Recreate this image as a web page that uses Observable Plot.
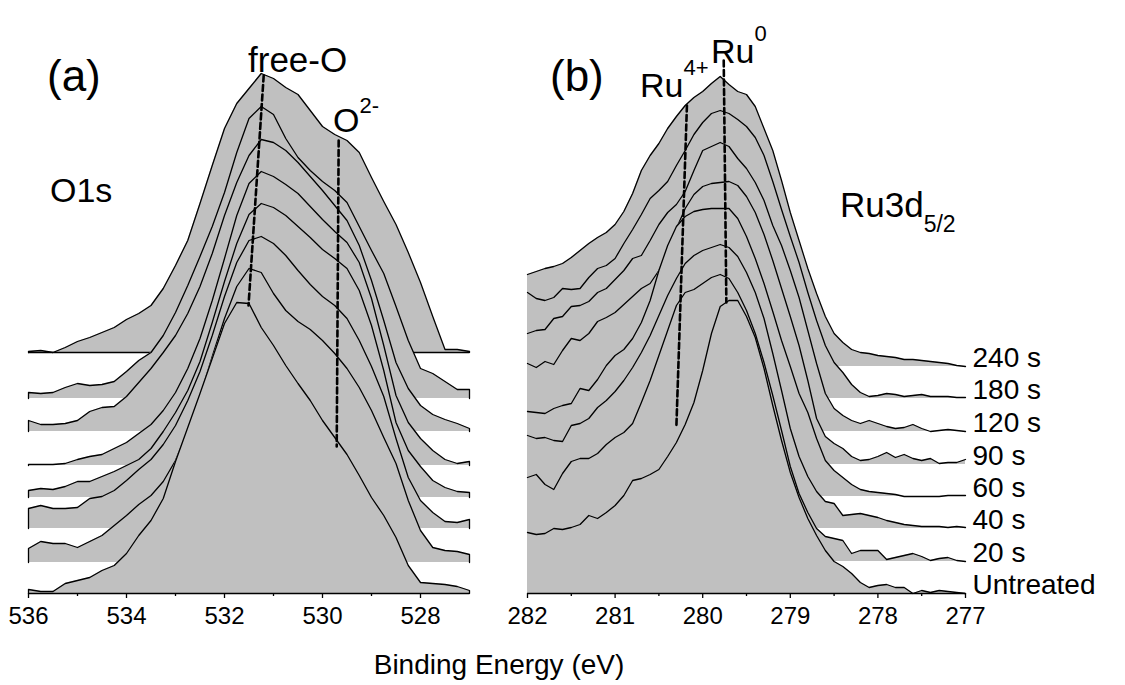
<!DOCTYPE html>
<html><head><meta charset="utf-8">
<script src="https://cdn.jsdelivr.net/npm/d3@7"></script>
<script src="https://cdn.jsdelivr.net/npm/@observablehq/plot@0.6"></script>
<style>
body{margin:0;background:#fff;}
#fig{position:relative;width:1125px;height:685px;overflow:hidden;font-family:"Liberation Sans",Arial,sans-serif;background:#fff;}
#fig > svg{position:absolute;top:0;}
</style></head><body><div id="fig"></div>
<script>
// ---- data ----
const seriesNames = ["240 s","180 s","120 s","90 s","60 s","40 s","20 s","Untreated"];

// O1s panel: binding energy grid (eV) and intensity above each trace's own baseline (a.u.)
const o1sEnergy = [536,535.75,535.5,535.25,535,534.75,534.5,534.25,534,533.75,533.5,533.25,533,532.75,532.5,532.25,532,531.75,531.5,531.25,531,530.75,530.5,530.25,530,529.75,529.5,529.25,529,528.75,528.5,528.25,528,527.75,527.5,527.25,527];
const o1s240 = [1,2,0,5,11,15,20,25,33,39,47,64,87,112,149,187,224,249,264,279,274,265,258,242,226,218,212,200,175,151,128,100,70,36,3,3,1];
const o1s180 = [6,5,6,11,15,13,14,17,27,38,46,63,86,113,142,172,206,246,280,292,284,260,241,228,217,208,196,172,148,125,92,58,30,25,17,9,9];
const o1s120 = [11,7,7,8,11,20,24,25,35,49,63,79,96,118,145,178,216,249,276,292,289,281,269,255,241,226,211,186,151,111,69,43,26,17,12,8,3];
const o1s90  = [1,1,1,2,6,9,11,17,23,32,41,55,73,97,127,165,207,250,282,294,289,281,272,259,246,234,223,203,167,120,70,43,27,15,6,2,4];
const o1s60  = [7,9,8,11,16,16,21,26,32,38,49,66,85,107,136,175,216,254,283,294,290,282,271,260,248,239,229,207,172,127,75,47,31,17,10,6,5];
const o1s40  = [20,23,20,20,21,30,32,38,48,59,69,84,103,128,157,193,232,266,288,292,285,273,258,244,232,223,210,188,162,132,90,51,28,16,7,6,9];
const o1s20  = [14,21,19,19,15,21,27,37,47,58,67,81,102,132,166,206,244,276,294,290,269,252,241,233,222,209,194,175,152,125,99,62,32,15,12,11,8];
const o1sUnt = [4,2,2,10,13,16,23,28,40,58,73,95,132,166,200,235,270,291,290,266,248,228,210,193,173,156,139,118,96,78,56,28,11,10,9,7,3];
const o1sOffset = [241,195,162,128,96,65,31,0];
const o1sTicks = [536,534,532,530,528];
const o1sMinor = [535,533,531,529];

// Ru3d5/2 panel
const ruEnergy = [282,281.9,281.8,281.7,281.6,281.5,281.4,281.3,281.2,281.1,281,280.9,280.8,280.7,280.6,280.5,280.4,280.3,280.2,280.1,280,279.9,279.8,279.7,279.6,279.5,279.4,279.3,279.2,279.1,279,278.9,278.8,278.7,278.6,278.5,278.4,278.3,278.2,278.1,278,277.9,277.8,277.7,277.6,277.5,277.4,277.3,277.2,277.1,277];
const ru240 = [92,95,98,100,103,109,116,123,129,134,142,155,173,196,211,223,238,250,261,269,275,283,290,282,275,272,260,238,216,186,154,126,98,73,50,33,24,17,14,13,11,10,9,7,7,6,5,4,3,1,0];
const ru180 = [106,100,98,101,110,109,110,121,130,133,140,155,169,184,200,208,217,233,248,264,276,285,288,285,279,272,261,243,217,189,162,136,106,78,53,36,26,14,6,2,3,5,4,2,3,4,2,2,2,1,1];
const ru120 = [98,101,102,113,115,125,126,130,139,143,152,161,173,176,191,207,219,227,240,261,281,285,289,285,273,263,249,231,206,186,161,134,101,68,38,23,16,11,8,11,8,5,3,4,7,3,0,1,2,1,0];
const ru90  = [101,97,103,100,114,126,124,131,143,147,152,160,168,176,181,194,214,236,256,270,278,281,282,283,279,268,252,230,204,176,148,119,84,46,28,21,16,8,4,5,8,12,7,10,6,4,6,1,2,2,5];
const ru60  = [85,84,83,88,91,93,108,106,117,131,141,147,158,174,196,226,251,270,280,285,287,288,288,288,278,260,238,213,185,156,130,103,84,58,36,26,19,12,7,5,4,3,2,0,0,0,0,0,1,1,1];
const ru40  = [93,90,91,88,87,103,105,110,121,128,137,148,161,176,193,213,233,250,265,273,278,281,284,281,272,256,236,210,175,138,100,72,52,37,27,25,13,14,15,13,11,8,6,4,3,2,2,2,1,2,1];
const ru20  = [84,87,77,72,88,100,103,103,108,117,124,129,138,159,181,206,231,256,269,272,278,284,287,283,269,251,228,199,166,131,95,68,49,33,25,23,21,8,11,11,11,2,4,6,8,5,1,3,4,1,0];
const ruUnt = [61,59,60,65,64,66,69,78,75,81,88,98,113,115,119,124,137,151,169,191,223,260,287,293,293,277,256,225,188,153,121,96,75,58,43,32,27,20,11,6,8,9,6,6,0,3,1,3,2,1,0];
const ruOffset = [227,195,162,129,97,65,32,0];
const ruTicks = [282,281,280,279,278,277];
const ruMinor = [281.5,280.5,279.5,278.5,277.5];

// peak-position guide lines (energy, intensity)
const freeOLine = [[531.20,518],[531.51,288]];
const o2Line    = [[529.67,453],[529.71,147]];
const ru0Line   = [[279.76,533],[279.73,291]];
const ru4Line   = [[280.18,488],[280.30,168]];

// ---- drawing ----
const FONT = "'Liberation Sans', Arial, sans-serif";
const FILL = "#c0c0c0";

function makePanel(cfg) {
  const marks = [];
  cfg.spectra.forEach((vals, k) => {
    const off = cfg.offsets[k];
    const rows = cfg.energy.map((E, i) => ({E, h: vals[i]}));
    let lineRows = rows;
    if (cfg.endDrops) lineRows = [{E: cfg.energy[0], h: 0}, ...rows, {E: cfg.energy[cfg.energy.length - 1], h: 0}];
    marks.push(Plot.areaY(rows, {x: "E", y1: () => off, y2: d => off + d.h, fill: FILL}));
    marks.push(Plot.lineY(lineRows, {x: "E", y: d => off + d.h, stroke: "black", strokeWidth: 1.3}));
    if (cfg.topBaseline && k === 0) marks.push(Plot.ruleY([off], {stroke: "black", strokeWidth: 1.3}));
  });
  cfg.guides.forEach(g => {
    marks.push(Plot.line(g, {x: d => d[0], y: d => d[1], stroke: "black", strokeWidth: 2.6, strokeDasharray: "6,3.5"}));
  });
  marks.push(Plot.ruleY([0], {stroke: "black", strokeWidth: 1.5}));
  if (Plot.axisX) {
    marks.push(Plot.axisX({ticks: cfg.ticks, tickSize: 5, tickPadding: 8, fontSize: 24, tickFormat: d => String(d), label: null, strokeWidth: 1.3}));
    marks.push(Plot.axisX({ticks: cfg.minor, tickSize: 3, tickFormat: () => "", label: null, strokeWidth: 1.3}));
  }
  if (cfg.labels) {
    const lab = seriesNames.map((s, k) => ({s, off: cfg.offsets[k]}));
    marks.push(Plot.text(lab, {x: () => cfg.energy[cfg.energy.length - 1], y: d => d.off, text: "s", dx: 7, dy: -8, textAnchor: "start", lineAnchor: "middle", fontSize: 28, fill: "black"}));
  }
  const svg = Plot.plot({
    width: cfg.width, height: 640,
    marginLeft: cfg.marginLeft, marginRight: cfg.marginRight, marginTop: 53, marginBottom: 47,
    x: {domain: cfg.domain, ...(Plot.axisX ? {} : {ticks: cfg.ticks, tickSize: 5, label: null})},
    y: {domain: [0, 540], axis: null},
    style: {background: "transparent", overflow: "visible", fontFamily: FONT, color: "black"},
    marks
  });
  svg.style.left = cfg.left + "px";
  return svg;
}

const fig = document.getElementById("fig");
fig.appendChild(makePanel({
  left: 0, width: 500, marginLeft: 28, marginRight: 31, domain: [536, 527],
  energy: o1sEnergy, spectra: [o1s240, o1s180, o1s120, o1s90, o1s60, o1s40, o1s20, o1sUnt],
  offsets: o1sOffset, ticks: o1sTicks, minor: o1sMinor, guides: [freeOLine, o2Line],
  endDrops: true, topBaseline: true, labels: false
}));
fig.appendChild(makePanel({
  left: 500, width: 625, marginLeft: 27, marginRight: 160, domain: [282, 277],
  energy: ruEnergy, spectra: [ru240, ru180, ru120, ru90, ru60, ru40, ru20, ruUnt],
  offsets: ruOffset, ticks: ruTicks, minor: ruMinor, guides: [ru0Line, ru4Line],
  endDrops: false, topBaseline: false, labels: true
}));

// annotation layer (text only)
const NS = "http://www.w3.org/2000/svg";
const ann = document.createElementNS(NS, "svg");
ann.setAttribute("width", 1125); ann.setAttribute("height", 685);
ann.style.left = "0px"; ann.style.pointerEvents = "none";
ann.setAttribute("font-family", FONT);
function txt(parts, x, y, anchor) {
  const t = document.createElementNS(NS, "text");
  t.setAttribute("x", x); t.setAttribute("y", y);
  if (anchor) t.setAttribute("text-anchor", anchor);
  parts.forEach(p => {
    const s = document.createElementNS(NS, "tspan");
    s.textContent = p.t;
    s.setAttribute("font-size", p.size);
    if (p.dy) s.setAttribute("dy", p.dy);
    t.appendChild(s);
  });
  ann.appendChild(t);
}
txt([{t: "(a)", size: 44}], 47, 91);
txt([{t: "free-O", size: 35}], 248, 72);
txt([{t: "O", size: 34}, {t: "2-", size: 22, dy: -19}], 333, 132);
txt([{t: "O1s", size: 34}], 50, 202);
txt([{t: "(b)", size: 44}], 550, 91);
txt([{t: "Ru", size: 34}, {t: "4+", size: 22, dy: -22}], 640, 97);
txt([{t: "Ru", size: 34}, {t: "0", size: 22, dy: -22}], 711, 63);
txt([{t: "Ru3d", size: 35}, {t: "5/2", size: 23, dy: 15}], 840, 217);
txt([{t: "Binding Energy (eV)", size: 28}], 499, 674, "middle");
fig.appendChild(ann);
</script></body></html>
